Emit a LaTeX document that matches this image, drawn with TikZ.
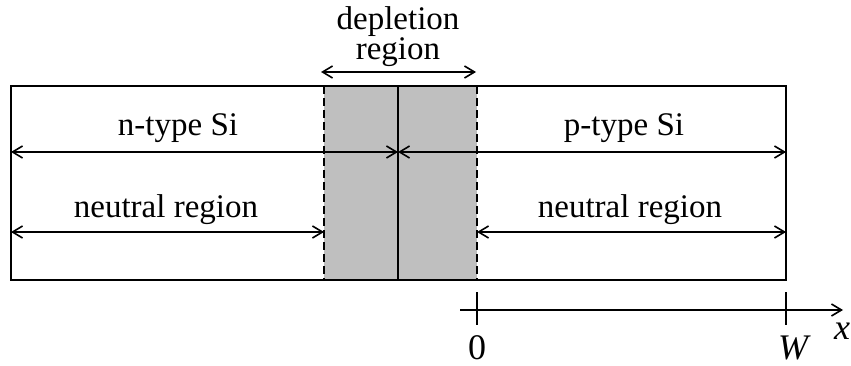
\documentclass[tikz,border=0pt]{standalone}
\usepackage{fontspec}
\setmainfont{Liberation Serif}
\usetikzlibrary{arrows.meta}
\begin{document}
\begin{tikzpicture}[x=1pt,y=-1pt,
  lbl/.style={font=\fontsize{33}{33}\selectfont, inner sep=0pt},
  big/.style={font=\fontsize{36}{36}\selectfont, inner sep=0pt},
  bigit/.style={font=\fontsize{36}{36}\selectfont\itshape, inner sep=0pt},
  dim/.style={line width=1.6pt, {Straight Barb[length=10pt,width=12pt]}-{Straight Barb[length=10pt,width=12pt]}},
  edge/.style={line width=1.8pt}]
\useasboundingbox (0,0) rectangle (851,366);
% regions
\fill[gray!50] (324,86) rectangle (477,280);
\draw[edge] (11,86) rectangle (786,280);
\draw[edge, dash pattern=on 8pt off 4pt] (324,86) -- (324,280);
\draw[edge, dash pattern=on 8pt off 4pt] (477,86) -- (477,280);
\draw[line width=1.4pt] (398,86) -- (398,280);
% named coordinates
\coordinate (nL) at (11,152);
\coordinate (nR) at (398,152);
\coordinate (pR) at (786,152);
\coordinate (uL) at (11,232);
\coordinate (uM) at (324,232);
\coordinate (uN) at (477,232);
\coordinate (uR) at (786,232);
\coordinate (dL) at (321,72);
\coordinate (dR) at (476,72);
% dimension arrows
\draw[dim] (nL) -- (nR);
\draw[dim] (nR) -- (pR);
\draw[dim] (uL) -- (uM);
\draw[dim] (uN) -- (uR);
\draw[dim] (dL) -- (dR);
% labels
\node[lbl] (ntype) at (178,128) {n-type Si};
\node[lbl] (ptype) at (624,128) {p-type Si};
\node[lbl] (neuL) at (166,210) {neutral region};
\node[lbl] (neuR) at (630,210) {neutral region};
\node[lbl, anchor=base] (dep1) at (398,30) {depletion};
\node[lbl, anchor=base] (dep2) at (398,60) {region};
% axis
\coordinate (ax0) at (460,310);
\coordinate (ax1) at (843,310);
\draw[line width=1.6pt, -{Straight Barb[length=10pt,width=12pt]}] (ax0) -- (ax1);
\coordinate (t0a) at (477,292); \coordinate (t0b) at (477,325);
\coordinate (tWa) at (786,292); \coordinate (tWb) at (786,325);
\draw[line width=1.6pt] (t0a) -- (t0b);
\draw[line width=1.6pt] (tWa) -- (tWb);
\node[big, anchor=base] (zero) at (477,359) {0};
\node[bigit, anchor=base] (W) at (793,359) {W};
\node[bigit, anchor=base] (x) at (842,339) {x};
\end{tikzpicture}
\end{document}
